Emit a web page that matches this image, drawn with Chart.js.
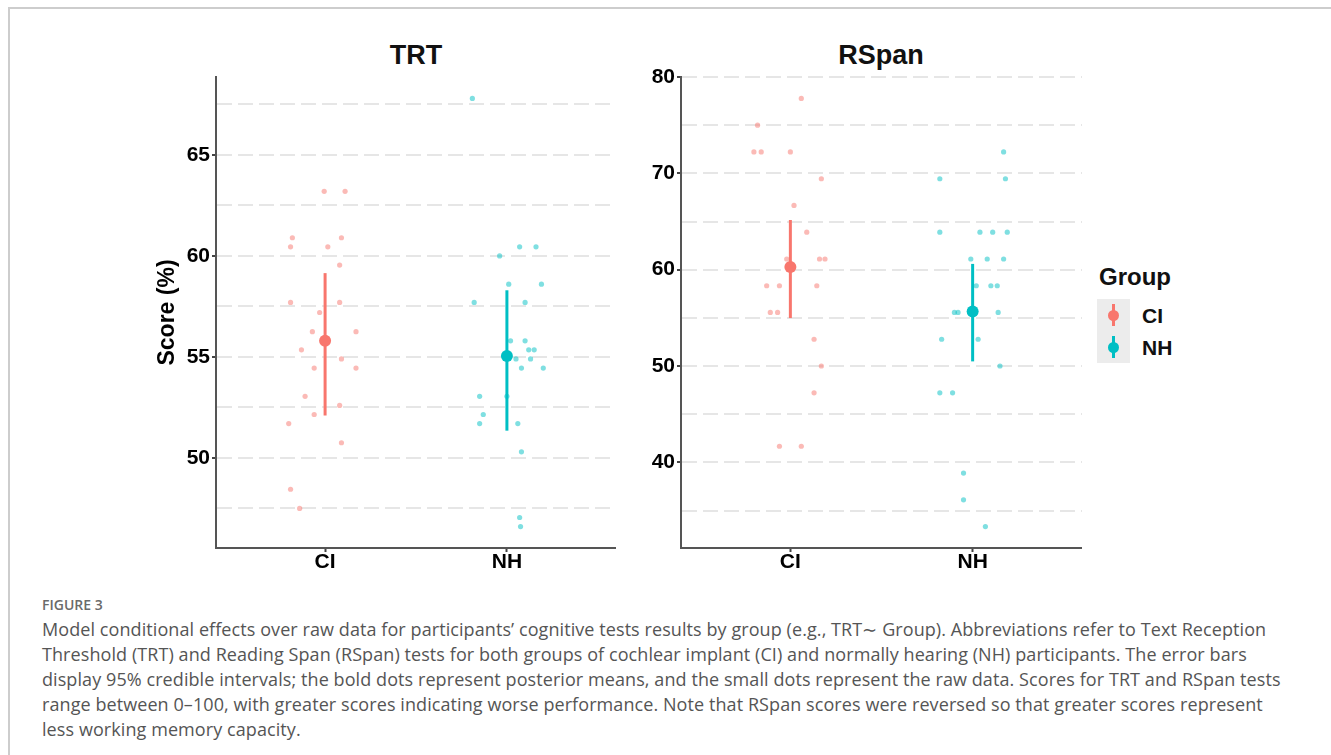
<!DOCTYPE html>
<html>
<head>
<meta charset="utf-8">
<title>Conditional effects by group</title>
<script src="https://cdn.jsdelivr.net/npm/chart.js@4.4.1/dist/chart.umd.min.js"></script>
<style>
  html, body { margin: 0; padding: 0; background: #fff; }
  body { width: 1331px; height: 755px; position: relative; overflow: hidden;
         font-family: 'Liberation Sans', Arial, Helvetica, sans-serif; }
  #frame { position: absolute; left: 8px; top: 7px; right: -4px; bottom: -4px;
           border-left: 2px solid #cdcdcd; border-top: 2px solid #cdcdcd; }
  .panel-title { position: absolute; top: 42px; width: 300px; text-align: center;
                 font-weight: bold; font-size: 27px; line-height: 27px; color: #111; }
  canvas { position: absolute; }
  #legend-title { position: absolute; left: 1099px; top: 265px; font-weight: bold;
                  font-size: 24px; line-height: 24px; color: #111; }
  #legend-keys { position: absolute; left: 1097px; top: 299px; width: 33px; height: 64px; background: #ececec; }
  .key { position: absolute; left: 0; width: 33px; height: 32px; }
  .key .bar { position: absolute; left: 15px; top: 5px; width: 3px; height: 22px; }
  .key .dot { position: absolute; left: 11px; top: 10.5px; width: 11px; height: 11px; border-radius: 50%; }
  .legend-label { position: absolute; left: 1142px; font-weight: bold; font-size: 21px; line-height: 22px; color: #111; }
  #fig-label { position: absolute; left: 42px; top: 595px; font-family: 'Open Sans', sans-serif;
               font-weight: 600; font-size: 14px; color: #6a6a6a; }
  #caption { position: absolute; left: 42px; top: 617px; font-family: 'Open Sans', sans-serif;
             font-size: 18px; letter-spacing: 0.08px; line-height: 25px; color: #555; white-space: nowrap; }
</style>
</head>
<body>
<div id="frame"></div>

<div class="panel-title" style="left:266px">TRT</div>
<div class="panel-title" style="left:731px">RSpan</div>

<canvas id="trt" width="476" height="528" style="left:140px;top:60px"></canvas>
<canvas id="rspan" width="462" height="528" style="left:620px;top:60px"></canvas>

<div id="legend-title">Group</div>
<div id="legend-keys">
  <div class="key" style="top:0"><div class="bar" style="background:#F8766D"></div><div class="dot" style="background:#F8766D"></div></div>
  <div class="key" style="top:32px"><div class="bar" style="background:#00BFC4"></div><div class="dot" style="background:#00BFC4"></div></div>
</div>
<div class="legend-label" style="top:305px">CI</div>
<div class="legend-label" style="top:337px">NH</div>

<div id="fig-label">FIGURE 3</div>
<div id="caption">Model conditional effects over raw data for participants’ cognitive tests results by group (e.g., TRT∼ Group). Abbreviations refer to Text Reception<br>Threshold (TRT) and Reading Span (RSpan) tests for both groups of cochlear implant (CI) and normally hearing (NH) participants. The error bars<br>display 95% credible intervals; the bold dots represent posterior means, and the small dots represent the raw data. Scores for TRT and RSpan tests<br>range between 0–100, with greater scores indicating worse performance. Note that RSpan scores were reversed so that greater scores represent<br>less working memory capacity.</div>

<script>
// Groups on the x axis
const groups = ['CI', 'NH'];
const groupColors = ['#F8766D', '#00BFC4'];
const rawColors = ['rgba(248,118,109,0.5)', 'rgba(0,191,196,0.5)'];

// TRT raw scores (%) with horizontal jitter (in group units)
const trtCiScores = [63.2, 63.2, 60.9, 60.9, 60.45, 60.45, 59.55, 57.7, 57.7, 57.2, 56.25, 56.25, 55.35, 54.9, 54.45, 54.45, 53.05, 52.6, 52.15, 51.7, 50.75, 48.45, 47.5];
const trtCiJitter = [-0.005, 0.11, -0.18, 0.09, -0.19, 0.015, 0.08, -0.19, 0.08, -0.03, -0.07, 0.17, -0.13, 0.09, -0.06, 0.17, -0.11, 0.08, -0.06, -0.2, 0.09, -0.19, -0.14];
const trtNhScores = [67.8, 60.45, 60.45, 60.0, 58.6, 58.6, 57.7, 57.7, 55.8, 55.8, 55.35, 55.35, 54.9, 54.9, 54.45, 54.45, 53.05, 53.05, 52.15, 51.7, 51.7, 50.3, 47.05, 46.6];
const trtNhJitter = [-0.19, 0.07, 0.16, -0.04, 0.01, 0.19, -0.18, 0.10, 0.02, 0.10, 0.12, 0.15, 0.05, 0.13, 0.08, 0.20, -0.15, 0.0, -0.13, -0.15, 0.06, 0.08, 0.07, 0.075];

// TRT posterior means and 95% credible intervals (CI, NH)
const trtMean = [55.8, 55.05];
const trtLower = [52.1, 51.35];
const trtUpper = [59.15, 58.3];

// RSpan raw scores (%) with horizontal jitter
const rspanCiScores = [77.78, 75.0, 72.22, 72.22, 72.22, 69.44, 66.67, 63.89, 61.11, 61.11, 61.11, 58.33, 58.33, 58.33, 55.56, 55.56, 52.78, 50.0, 47.22, 41.67, 41.67];
const rspanCiJitter = [0.06, -0.18, -0.2, -0.16, 0.0, 0.17, 0.02, 0.09, -0.02, 0.16, 0.19, -0.13, -0.06, 0.145, -0.11, -0.07, 0.13, 0.17, 0.13, -0.06, 0.06];
const rspanNhScores = [72.22, 69.44, 69.44, 63.89, 63.89, 63.89, 63.89, 61.11, 61.11, 61.11, 58.33, 58.33, 58.33, 55.56, 55.56, 55.56, 52.78, 52.78, 50.0, 47.22, 47.22, 38.89, 36.11, 33.33];
const rspanNhJitter = [0.17, -0.18, 0.18, -0.18, 0.04, 0.11, 0.19, -0.01, 0.08, 0.17, 0.02, 0.10, 0.135, -0.10, -0.08, 0.14, -0.17, 0.03, 0.15, -0.18, -0.11, -0.05, -0.05, 0.07];

// RSpan posterior means and 95% credible intervals
const rspanMean = [60.28, 55.67];
const rspanLower = [54.98, 50.48];
const rspanUpper = [65.16, 60.6];

// Tick labels and dashed grid positions
const trtTickLabels = [50, 55, 60, 65];
const trtGridValues = [47.5, 50, 52.5, 55, 57.5, 60, 62.5, 65, 67.5];
const rspanTickLabels = [40, 50, 60, 70, 80];
const rspanGridValues = [35, 40, 45, 50, 55, 60, 65, 70, 75, 80];

const FONT = "'Liberation Sans', Arial, Helvetica, sans-serif";

function rawPoints(scores, jitter, groupIndex) {
  return scores.map((s, i) => ({ x: groupIndex + 1 + jitter[i], y: s }));
}

function expandedRange(values) {
  const lo = Math.min(...values), hi = Math.max(...values);
  const pad = (hi - lo) * 0.05;
  return [lo - pad, hi + pad];
}

function buildPanel(canvasId, raw, mean, lower, upper, tickLabels, gridValues, opts) {
  const datasets = [];
  raw.forEach((r, g) => {
    datasets.push({
      type: 'scatter', label: groups[g] + ' raw', order: 0,
      data: rawPoints(r.scores, r.jitter, g),
      pointRadius: 2.6, pointBackgroundColor: rawColors[g], pointBorderWidth: 0
    });
  });
  groups.forEach((name, g) => {
    datasets.push({
      type: 'line', label: name + ' interval', order: 2,
      data: [{ x: g + 1, y: lower[g] }, { x: g + 1, y: upper[g] }],
      borderColor: groupColors[g], borderWidth: 3, pointRadius: 0, fill: false
    });
    datasets.push({
      type: 'scatter', label: name + ' mean', order: 1,
      data: [{ x: g + 1, y: mean[g] }],
      pointRadius: 6, pointBackgroundColor: groupColors[g], pointBorderWidth: 0
    });
  });

  const allValues = raw.flatMap(r => r.scores).concat(lower, upper);
  const [yMin, yMax] = expandedRange(allValues);

  return new Chart(document.getElementById(canvasId), {
    data: { datasets },
    options: {
      responsive: false,
      animation: false,
      devicePixelRatio: 1,
      layout: { autoPadding: false, padding: { left: opts.padLeft, top: 17, right: 0, bottom: 0 } },
      plugins: { legend: { display: false }, tooltip: { enabled: false }, title: { display: false } },
      scales: {
        x: {
          type: 'linear', position: 'bottom', min: 0.4, max: 2.6,
          afterBuildTicks: ax => { ax.ticks = groups.map((_, i) => ({ value: i + 1 })); },
          afterFit: ax => { ax.height = 40; },
          ticks: {
            autoSkip: false, padding: 0, color: '#000',
            font: { family: FONT, size: 21, weight: 'bold', lineHeight: 1 },
            callback: v => groups[Math.round(v) - 1]
          },
          grid: { drawOnChartArea: false, drawTicks: true, tickLength: 4, tickWidth: 2, tickColor: '#444' },
          border: { display: true, color: '#555', width: 2 }
        },
        y: {
          type: 'linear', position: 'left', min: yMin, max: yMax,
          afterBuildTicks: ax => { ax.ticks = gridValues.map(v => ({ value: v })); },
          afterFit: ax => { ax.width = opts.axisWidth; },
          ticks: {
            autoSkip: false, padding: 2, color: '#000',
            font: { family: FONT, size: 21, weight: 'bold' },
            callback: v => tickLabels.includes(v) ? String(v) : ''
          },
          grid: {
            color: '#e6e6e6', lineWidth: 2, drawTicks: true, tickLength: 4, tickWidth: 2,
            tickBorderDash: [],
            tickColor: ctx => tickLabels.includes(ctx.tick && ctx.tick.value) ? '#444' : 'rgba(0,0,0,0)'
          },
          border: { display: true, color: '#555', width: 2, dash: [15, 6] },
          title: opts.yTitle ? {
            display: true, text: opts.yTitle, color: '#000', padding: { top: 0, bottom: 0 },
            font: { family: FONT, size: 23, weight: 'bold' }
          } : { display: false }
        }
      }
    }
  });
}

buildPanel('trt',
  [{ scores: trtCiScores, jitter: trtCiJitter }, { scores: trtNhScores, jitter: trtNhJitter }],
  trtMean, trtLower, trtUpper, trtTickLabels, trtGridValues,
  { padLeft: 14, axisWidth: 62, yTitle: 'Score (%)' });

buildPanel('rspan',
  [{ scores: rspanCiScores, jitter: rspanCiJitter }, { scores: rspanNhScores, jitter: rspanNhJitter }],
  rspanMean, rspanLower, rspanUpper, rspanTickLabels, rspanGridValues,
  { padLeft: 0, axisWidth: 61, yTitle: null });
</script>
</body>
</html>
